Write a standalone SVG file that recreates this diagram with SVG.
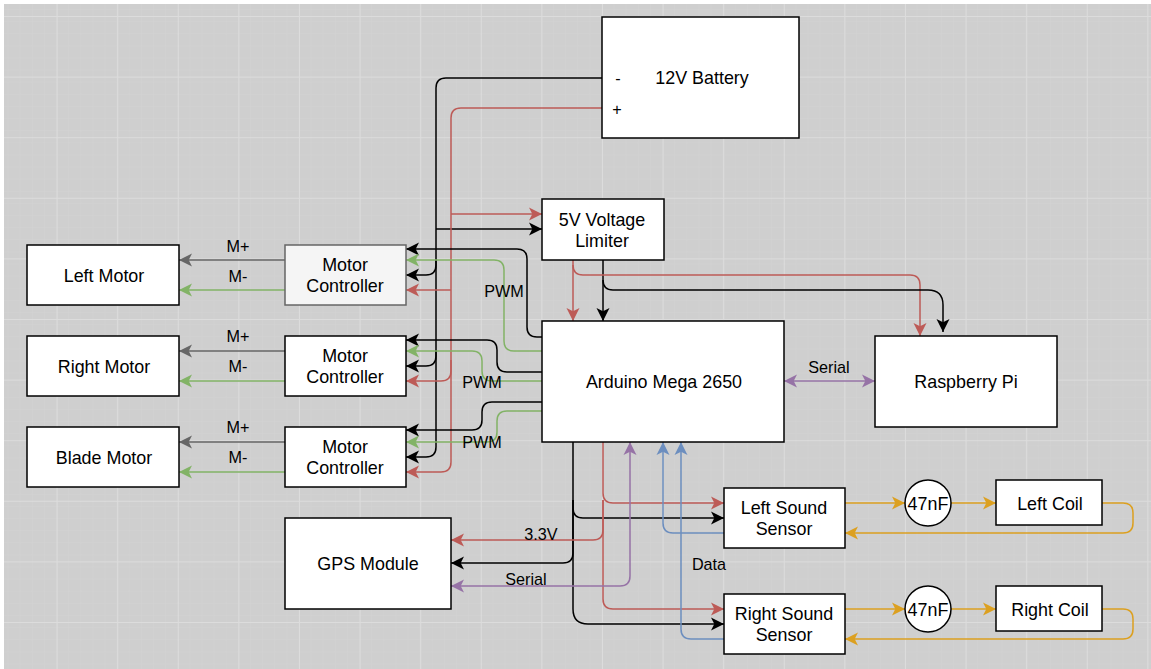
<svg xmlns="http://www.w3.org/2000/svg" width="1151" height="669" viewBox="0 0 1151 669">
<style>
.n{fill:#fff;stroke:#000;stroke-width:1.5}
.g{fill:#f5f5f5;stroke:#666;stroke-width:1.5}
.t{font-family:"Liberation Sans",Arial,sans-serif;font-size:17.9px;fill:#000;text-anchor:middle}
.l{font-family:"Liberation Sans",Arial,sans-serif;font-size:16.2px;fill:#000;text-anchor:middle}
path.c{fill:none;stroke-width:1.5}
.k{stroke:#000;marker-end:url(#mk)}
.r{stroke:#bd5b57;marker-end:url(#mr)}
.v{stroke:#82b366;marker-end:url(#mv)}
.y{stroke:#666;marker-end:url(#my)}
.p{stroke:#9673a6;marker-end:url(#mp);marker-start:url(#mps)}
.b{stroke:#6c8ebf;marker-end:url(#mb)}
.o{stroke:#dca020;marker-end:url(#mo)}
</style>
<defs>
<marker id="mk" markerUnits="userSpaceOnUse" markerWidth="14" markerHeight="14" refX="13" refY="7" orient="auto"><path d="M0,0.5L13,7L0,13.5L3.3,7Z" fill="#000"/></marker>
<marker id="mr" markerUnits="userSpaceOnUse" markerWidth="14" markerHeight="14" refX="13" refY="7" orient="auto"><path d="M0,0.5L13,7L0,13.5L3.3,7Z" fill="#bd5b57"/></marker>
<marker id="mv" markerUnits="userSpaceOnUse" markerWidth="14" markerHeight="14" refX="13" refY="7" orient="auto"><path d="M0,0.5L13,7L0,13.5L3.3,7Z" fill="#82b366"/></marker>
<marker id="my" markerUnits="userSpaceOnUse" markerWidth="14" markerHeight="14" refX="13" refY="7" orient="auto"><path d="M0,0.5L13,7L0,13.5L3.3,7Z" fill="#666"/></marker>
<marker id="mp" markerUnits="userSpaceOnUse" markerWidth="14" markerHeight="14" refX="13" refY="7" orient="auto"><path d="M0,0.5L13,7L0,13.5L3.3,7Z" fill="#9673a6"/></marker>
<marker id="mps" markerUnits="userSpaceOnUse" markerWidth="14" markerHeight="14" refX="1" refY="7" orient="auto"><path d="M14,0.5L1,7L14,13.5L10.7,7Z" fill="#9673a6"/></marker>
<marker id="mb" markerUnits="userSpaceOnUse" markerWidth="14" markerHeight="14" refX="13" refY="7" orient="auto"><path d="M0,0.5L13,7L0,13.5L3.3,7Z" fill="#6c8ebf"/></marker>
<marker id="mo" markerUnits="userSpaceOnUse" markerWidth="14" markerHeight="14" refX="13" refY="7" orient="auto"><path d="M0,0.5L13,7L0,13.5L3.3,7Z" fill="#dca020"/></marker>
<pattern id="minor" width="12.12" height="12.12" patternUnits="userSpaceOnUse" x="-3.6" y="-2.2"><path d="M12.12,0V12.12M0,12.12H12.12" stroke="#d3d3d3" stroke-width="1" fill="none"/></pattern>
<pattern id="major" width="60.6" height="60.6" patternUnits="userSpaceOnUse" x="-4" y="16"><path d="M0.5,0V60.6M0,0.5H60.6" stroke="#dcdcdc" stroke-width="1" fill="none"/></pattern>
</defs>
<rect width="1151" height="669" fill="#fff"/>
<g id="background">
<rect x="4" y="4" width="1147" height="665" fill="#cfcfcf"/>
<rect x="4" y="4" width="1147" height="665" fill="url(#minor)"/>
<rect x="4" y="4" width="1147" height="665" fill="url(#major)"/>
</g>
<g id="connectors">
<path class="c k" d="M602,78H446Q436,78 436,88V265Q436,275 426,275H406"/>
<path class="c k" d="M436,229H542"/>
<path class="c k" d="M436,260V356Q436,366 426,366H406"/>
<path class="c k" d="M436,350V447Q436,457 426,457H406"/>
<path class="c r" d="M602,108H461Q451,108 451,118V462Q451,472 441,472H406"/>
<path class="c r" d="M451,214H542"/>
<path class="c r" d="M451,290H406"/>
<path class="c r" d="M451,360V371Q451,381 441,381H406"/>
<path class="c k" d="M542,337H537Q527,337 527,327V259Q527,249 517,249H406"/>
<path class="c v" d="M542,351H514Q504,351 504,341V270Q504,260 494,260H406"/>
<path class="c k" d="M542,372H507Q497,372 497,362V350Q497,340 487,340H406"/>
<path class="c v" d="M542,381H492Q482,381 482,371V361Q482,351 472,351H406"/>
<path class="c k" d="M542,402H492Q482,402 482,412V420Q482,430 472,430H406"/>
<path class="c v" d="M542,411H507Q497,411 497,421V432Q497,442 487,442H406"/>
<path class="c y" d="M285,260H179"/>
<path class="c v" d="M285,290H179"/>
<path class="c y" d="M285,351H179"/>
<path class="c v" d="M285,381H179"/>
<path class="c y" d="M285,442H179"/>
<path class="c v" d="M285,472H179"/>
<path class="c r" d="M573,260V321"/>
<path class="c k" d="M603,260V321"/>
<path class="c r" d="M573,265Q573,275 583,275H910Q920,275 920,285V336"/>
<path class="c k" d="M603,280Q603,290 613,290H928Q943,290 943,305V332"/>
<path class="c k" d="M573,442V508Q573,518 583,518H724"/>
<path class="c k" d="M573,500V553Q573,563 563,563H451"/>
<path class="c k" d="M573,500V609Q573,624 588,624H724"/>
<path class="c r" d="M603,442V493Q603,503 613,503H724"/>
<path class="c r" d="M603,500V530Q603,540 593,540H451"/>
<path class="c r" d="M603,500V599Q603,609 613,609H724"/>
<path class="c p" d="M451,586H620Q630,586 630,576V442"/>
<path class="c b" d="M724,533H673Q663,533 663,523V442"/>
<path class="c b" d="M724,639H691Q681,639 681,629V442"/>
<path class="c p" d="M784,381H875"/>
<path class="c o" d="M845,503H905"/>
<path class="c o" d="M951,503H996"/>
<path class="c o" d="M1102,503H1123Q1133,503 1133,513V523Q1133,533 1123,533H845"/>
<path class="c o" d="M845,609H905"/>
<path class="c o" d="M951,609H996"/>
<path class="c o" d="M1102,609H1123Q1133,609 1133,619V629Q1133,639 1123,639H845"/>
</g>
<g id="battery"><rect class="n" x="602" y="17" width="197" height="121"/><text class="t" x="702" y="84">12V Battery</text><text class="l" x="618" y="84">-</text><text class="l" x="617" y="115">+</text></g>
<g id="limiter"><rect class="n" x="542" y="199" width="122" height="61"/><text class="t" x="602" y="226">5V Voltage</text><text class="t" x="602" y="247">Limiter</text></g>
<g id="arduino"><rect class="n" x="542" y="321" width="242" height="121"/><text class="t" x="664" y="388">Arduino Mega 2650</text></g>
<g id="raspberry"><rect class="n" x="875" y="336" width="182" height="91"/><text class="t" x="966" y="388">Raspberry Pi</text></g>
<g id="left-motor"><rect class="n" x="27" y="245" width="152" height="60"/><text class="t" x="104" y="282">Left Motor</text></g>
<g id="right-motor"><rect class="n" x="27" y="336" width="152" height="60"/><text class="t" x="104" y="373">Right Motor</text></g>
<g id="blade-motor"><rect class="n" x="27" y="427" width="152" height="60"/><text class="t" x="104" y="464">Blade Motor</text></g>
<g id="mc1"><rect class="g" x="285" y="245" width="121" height="60"/><text class="t" x="345" y="271">Motor</text><text class="t" x="345" y="292">Controller</text></g>
<g id="mc2"><rect class="n" x="285" y="336" width="121" height="60"/><text class="t" x="345" y="362">Motor</text><text class="t" x="345" y="383">Controller</text></g>
<g id="mc3"><rect class="n" x="285" y="427" width="121" height="60"/><text class="t" x="345" y="453">Motor</text><text class="t" x="345" y="474">Controller</text></g>
<g id="gps"><rect class="n" x="285" y="518" width="166" height="91"/><text class="t" x="368" y="570">GPS Module</text></g>
<g id="left-sound"><rect class="n" x="724" y="488" width="121" height="60"/><text class="t" x="784" y="514">Left Sound</text><text class="t" x="784" y="535">Sensor</text></g>
<g id="right-sound"><rect class="n" x="724" y="594" width="121" height="60"/><text class="t" x="784" y="620">Right Sound</text><text class="t" x="784" y="641">Sensor</text></g>
<g id="cap1"><circle class="n" cx="928" cy="503" r="23"/><text class="t" x="928" y="510">47nF</text></g>
<g id="cap2"><circle class="n" cx="928" cy="609" r="23"/><text class="t" x="928" y="616">47nF</text></g>
<g id="left-coil"><rect class="n" x="996" y="480" width="106" height="45"/><text class="t" x="1050" y="510">Left Coil</text></g>
<g id="right-coil"><rect class="n" x="996" y="586" width="106" height="45"/><text class="t" x="1050" y="616">Right Coil</text></g>
<g id="labels">
<text class="l" x="238" y="252">M+</text><text class="l" x="238" y="282">M-</text>
<text class="l" x="238" y="342">M+</text><text class="l" x="238" y="372">M-</text>
<text class="l" x="238" y="433">M+</text><text class="l" x="238" y="463">M-</text>
<text class="l" x="504" y="297">PWM</text><text class="l" x="482" y="388">PWM</text><text class="l" x="482" y="448">PWM</text>
<text class="l" x="829" y="373">Serial</text><text class="l" x="541" y="540">3.3V</text><text class="l" x="526" y="585">Serial</text><text class="l" x="709" y="570">Data</text>
</g>
</svg>
